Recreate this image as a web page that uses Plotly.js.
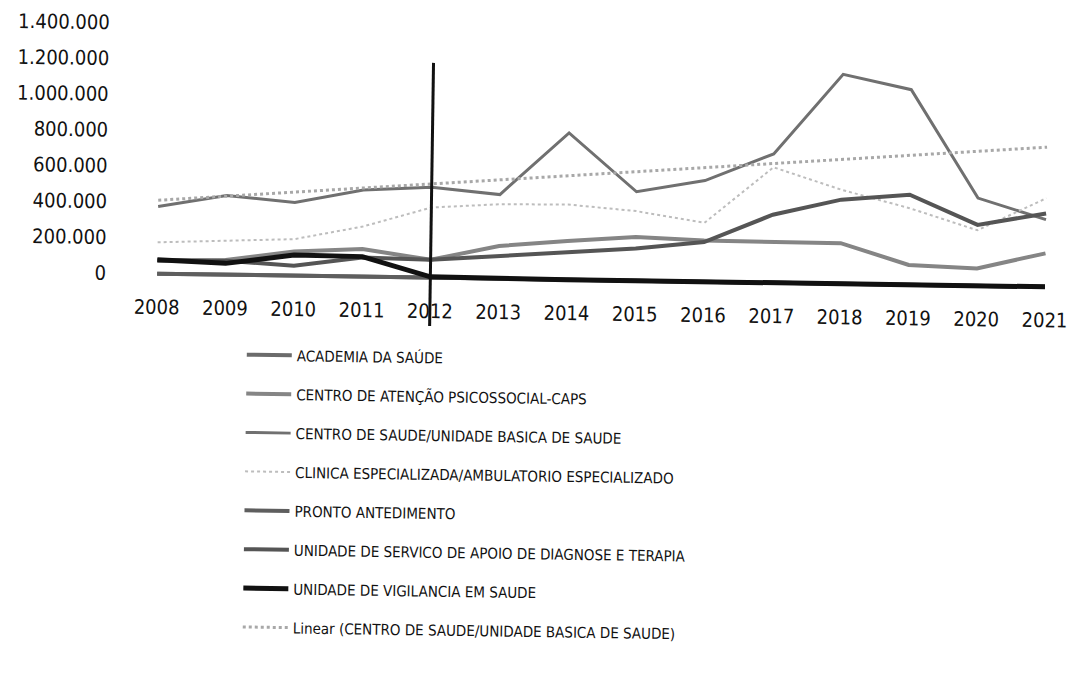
<!DOCTYPE html>
<html>
<head>
<meta charset="utf-8">
<script src="https://cdn.plot.ly/plotly-3.0.1.min.js"></script>
<style>
html,body{margin:0;padding:0;background:#fff;overflow:hidden;}
#chart{width:1069px;height:695px;transform:rotate(0.85deg);transform-origin:157px 274px;}
</style>
</head>
<body>
<div id="chart"></div>
<script>
const years = [2008, 2009, 2010, 2011, 2012, 2013, 2014, 2015, 2016, 2017, 2018, 2019, 2020, 2021];
const academia   = [0, 0, 0, 0, 0, 0, 0, 0, 0, 0, 0, 0, 0, 0];
const caps       = [75000, 82000, 135000, 154000, 100000, 183000, 216000, 244000, 230000, 231000, 227000, 111000, 97000, 187000];
const ubs        = [375000, 442000, 409000, 484000, 505000, 470000, 820000, 497000, 565000, 720000, 1170000, 1090000, 490000, 375000];
const clinica    = [175000, 190000, 204000, 280000, 392000, 416000, 420000, 389000, 329000, 645000, 525000, 428000, 310000, 495000];
const pronto     = [0, 0, 0, 0, 0, 0, 0, 0, 0, 0, 0, 0, 0, 0];
const apoio      = [73000, 78000, 55000, 107000, 100000, 127000, 156000, 180000, 222000, 380000, 470000, 503000, 340000, 410000];
const vigilancia = [77000, 63000, 115000, 112000, 5000, 0, 0, 0, 0, 0, 0, 0, 0, 0];
const trendYears = [2008, 2021];
const trendUbs   = [410000, 780000];
const markerYear = 2012;
const markerTop  = 1200000;

const seriesNames = [
  'ACADEMIA DA SAÚDE',
  'CENTRO DE ATENÇÃO PSICOSSOCIAL-CAPS',
  'CENTRO DE SAUDE/UNIDADE BASICA DE SAUDE',
  'CLINICA ESPECIALIZADA/AMBULATORIO ESPECIALIZADO',
  'PRONTO ANTEDIMENTO',
  'UNIDADE DE SERVICO DE APOIO DE DIAGNOSE E TERAPIA',
  'UNIDADE DE VIGILANCIA EM SAUDE',
  'Linear (CENTRO DE SAUDE/UNIDADE BASICA DE SAUDE)'
];
const yTickVals = [0, 200000, 400000, 600000, 800000, 1000000, 1200000, 1400000];
const yTickText = ['0', '200.000', '400.000', '600.000', '800.000', '1.000.000', '1.200.000', '1.400.000'];

const FONT = '"DejaVu Sans Condensed", "DejaVu Sans", sans-serif';

function tr(name, x, y, color, width, dash, group) {
  return {
    type: 'scatter', mode: 'lines', name: name, x: x, y: y,
    legendgroup: group,
    line: {color: color, width: width, dash: dash || 'solid'},
    hoverinfo: 'skip'
  };
}

const data = [
  tr(seriesNames[0], years, academia,   '#6b6b6b', 4, 'solid', 'g0'),
  tr(seriesNames[1], years, caps,       '#858585', 4, 'solid', 'g1'),
  tr(seriesNames[2], years, ubs,        '#707070', 3, 'solid', 'g2'),
  tr(seriesNames[3], years, clinica,    '#bdbdbd', 2, 'dot',   'g3'),
  tr(seriesNames[4], years, pronto,     '#5e5e5e', 4, 'solid', 'g4'),
  tr(seriesNames[5], years, apoio,      '#555555', 4, 'solid', 'g5'),
  tr(seriesNames[6], years, vigilancia, '#111111', 5, 'solid', 'g6'),
  tr(seriesNames[7], trendYears, trendUbs, '#a8a8a8', 3, 'dot', 'g7')
];

const layout = {
  width: 1069, height: 695,
  margin: {l: 123, r: 0, t: 23, b: 416, autoexpand: false},
  paper_bgcolor: '#ffffff', plot_bgcolor: '#ffffff',
  font: {family: FONT, size: 20, color: '#111111'},
  showlegend: true,
  legend: {
    xref: 'container', yref: 'container',
    x: 0.2273, y: 0.515, xanchor: 'left', yanchor: 'top',
    itemwidth: 45,
    traceorder: 'grouped', tracegroupgap: 16.4,
    font: {family: FONT, size: 15, color: '#111111'},
    bgcolor: 'rgba(0,0,0,0)'
  },
  xaxis: {
    range: [2007.5, 2021.35], automargin: false, tickangle: 0,
    tickmode: 'array', tickvals: years, ticktext: years.map(String),
    showgrid: false, zeroline: false, showline: false, ticks: '',
    ticklabelstandoff: 14,
    tickfont: {family: FONT, size: 20, color: '#111111'}
  },
  yaxis: {
    range: [-30000, 1400000], automargin: false,
    tickmode: 'array', tickvals: yTickVals, ticktext: yTickText,
    showgrid: false, zeroline: false, showline: false, ticks: '',
    ticklabelstandoff: 16,
    tickfont: {family: FONT, size: 20, color: '#111111'}
  },
  shapes: [
    {type: 'line', xref: 'x', yref: 'y',
     x0: markerYear, x1: markerYear, y0: 0, y1: markerTop,
     line: {color: '#111111', width: 3}},
    {type: 'line', xref: 'x', yref: 'paper',
     x0: markerYear, x1: markerYear, y0: 0.03, y1: -0.168,
     line: {color: '#111111', width: 3}}
  ]
};

Plotly.newPlot('chart', data, layout, {displayModeBar: false, staticPlot: true});
</script>
</body>
</html>
